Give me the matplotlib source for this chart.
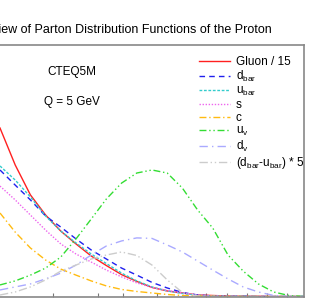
import matplotlib
matplotlib.use("Agg")
import matplotlib.pyplot as plt

plt.rcParams["font.family"] = ["Liberation Sans", "DejaVu Sans"]
plt.rcParams["mathtext.fontset"] = "custom"
plt.rcParams["mathtext.rm"] = "Liberation Sans"
plt.rcParams["mathtext.it"] = "Liberation Sans:italic"

# x grid (visible part of the frame, right frame edge = 1.0)
x = [0.00, 0.05, 0.10, 0.15, 0.20, 0.25, 0.30, 0.35, 0.40, 0.45, 0.50,
     0.55, 0.60, 0.65, 0.70, 0.75, 0.80, 0.85, 0.90, 0.95, 1.00]

gluon_15 = [0.670, 0.523, 0.404, 0.324, 0.260, 0.209, 0.161, 0.123, 0.087, 0.060, 0.036,
            0.022, 0.014, 0.006, 0.004, 0.002, 0.001, 0.001, 0.0, 0.0, 0.0]
d_bar = [0.503, 0.443, 0.384, 0.320, 0.276, 0.229, 0.185, 0.149, 0.113, 0.085, 0.056,
         0.034, 0.016, 0.006, 0.002, 0.001, 0.001, 0.0, 0.0, 0.0, 0.0]
u_bar = [0.519, 0.463, 0.396, 0.320, 0.260, 0.213, 0.169, 0.131, 0.093, 0.062, 0.038,
         0.022, 0.012, 0.005, 0.002, 0.001, 0.001, 0.0, 0.0, 0.0, 0.0]
s_quark = [0.439, 0.384, 0.324, 0.264, 0.209, 0.169, 0.137, 0.105, 0.078, 0.054, 0.036,
           0.024, 0.014, 0.006, 0.002, 0.001, 0.0, 0.0, 0.0, 0.0, 0.0]
c_quark = [0.332, 0.256, 0.193, 0.145, 0.109, 0.085, 0.062, 0.042, 0.028, 0.020, 0.014,
           0.008, 0.004, 0.002, 0.001, 0.0, 0.0, 0.0, 0.0, 0.0, 0.0]
u_valence = [0.046, 0.062, 0.085, 0.113, 0.157, 0.229, 0.308, 0.388, 0.451, 0.491, 0.503,
             0.491, 0.431, 0.344, 0.272, 0.165, 0.101, 0.050, 0.018, 0.004, 0.0]
d_valence = [0.026, 0.038, 0.050, 0.070, 0.093, 0.125, 0.165, 0.201, 0.221, 0.233, 0.231,
             0.205, 0.177, 0.141, 0.105, 0.070, 0.038, 0.018, 0.004, 0.0, 0.0]
dbar_minus_ubar_5 = [0.006, 0.018, 0.038, 0.066, 0.101, 0.125, 0.149, 0.165, 0.177, 0.163, 0.125,
                     0.066, 0.016, 0.002, 0.0, 0.0, 0.0, 0.0, 0.0, 0.0, 0.0]

tick_positions = [0.174, 0.322, 0.405, 0.516, 0.678, 0.747, 0.813, 0.878, 0.944]

series = [
    (gluon_15, "Gluon / 15", "#ff2020", None),
    (d_bar, r"d$_{\rm bar}$", "#2020ee", (4, 3)),
    (u_bar, r"u$_{\rm bar}$", "#33cccc", (2, 1.2)),
    (s_quark, "s", "#ee66ee", (1, 1.2)),
    (c_quark, "c", "#ffbb11", (5, 2, 1, 2)),
    (u_valence, r"u$_{\rm v}$", "#33dd33", (5, 2, 1, 2, 1, 2)),
    (d_valence, r"d$_{\rm v}$", "#aaaaff", (6, 3, 1, 3)),
    (dbar_minus_ubar_5, r"(d$_{\rm bar}$-u$_{\rm bar}$) * 5", "#cccccc", (6, 2, 1, 2, 1, 2)),
]

fig = plt.figure(figsize=(3.32, 2.98), dpi=100)
ax = fig.add_axes([-30 / 332, 1.5 / 298, 334 / 332, 251.5 / 298])
ax.set_xlim(-30 / 304, 1.0)
ax.set_ylim(0, 1.0)

for values, label, color, dashes in series:
    line, = ax.plot(x, values, color=color, lw=1.0, label=label)
    if dashes:
        line.set_dashes(dashes)

for sp in ax.spines.values():
    sp.set_color("#888888")
    sp.set_linewidth(1.2)

ax.set_xticks(tick_positions)
ax.set_xticklabels([])
ax.set_yticks([])
ax.tick_params(axis="x", direction="in", length=3, width=0.8, color="#777777")

ax.legend(loc="upper left", bbox_to_anchor=(199 / 332, 1 - 56 / 298),
          bbox_transform=fig.transFigure, frameon=False, fontsize=8.5,
          handlelength=2.6, handletextpad=0.5, labelspacing=0.08,
          borderpad=0, borderaxespad=0)

fig.text(72 / 332, 1 - 72 / 298, "CTEQ5M", ha="center", va="center", fontsize=8.5)
fig.text(72 / 332, 1 - 102 / 298, "Q = 5 GeV", ha="center", va="center", fontsize=8.5)
fig.text(272 / 332, 1 - 30 / 298, "Overview of Parton Distribution Functions of the Proton",
         ha="right", va="center", fontsize=9.0)

fig.savefig("out.png", dpi=100)
